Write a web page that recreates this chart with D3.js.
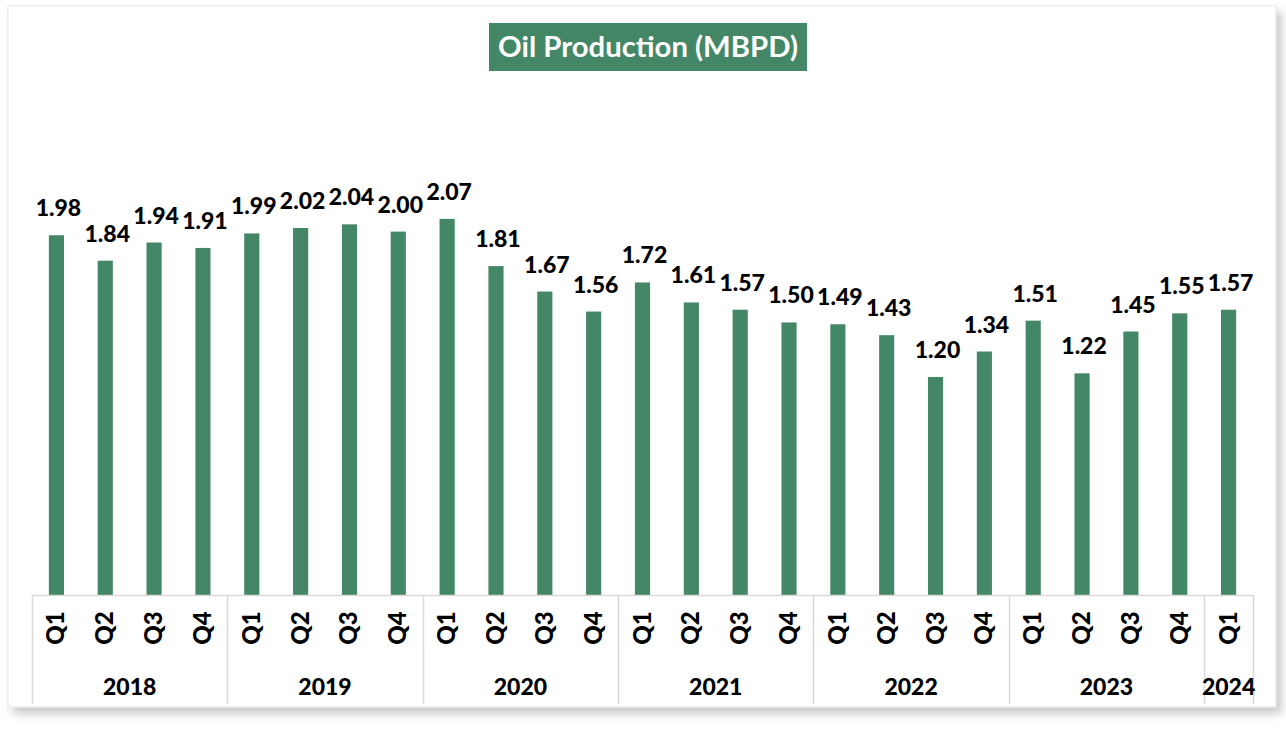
<!DOCTYPE html>
<html><head><meta charset="utf-8">
<script src="https://cdn.jsdelivr.net/npm/d3@7"></script>
<style>
html,body{margin:0;padding:0;background:#fff;}
svg{display:block;font-family:Lato,"Open Sans",sans-serif;}
</style></head>
<body>
<svg id="chart" width="1286" height="731"></svg>
<script>
const years = ["2018","2019","2020","2021","2022","2023","2024"];
const quarters = ["Q1","Q2","Q3","Q4"];
const values2018 = [1.98,1.84,1.94,1.91];
const values2019 = [1.99,2.02,2.04,2.00];
const values2020 = [2.07,1.81,1.67,1.56];
const values2021 = [1.72,1.61,1.57,1.50];
const values2022 = [1.49,1.43,1.20,1.34];
const values2023 = [1.51,1.22,1.45,1.55];
const values2024 = [1.57];
const title = "Oil Production (MBPD)";

const seriesByYear = [values2018,values2019,values2020,values2021,values2022,values2023,values2024];
const data = [];
seriesByYear.forEach((vals,yi)=>vals.forEach((v,qi)=>data.push({year:years[yi],q:quarters[qi],value:v,key:years[yi]+"-"+quarters[qi]})));

const svg = d3.select("#chart");
const green = "#438766";

// frame with shadow
const defs = svg.append("defs");
const f = defs.append("filter").attr("id","sh").attr("x","-5%").attr("y","-5%").attr("width","115%").attr("height","115%");
f.append("feDropShadow").attr("dx",5).attr("dy",6).attr("stdDeviation",5).attr("flood-color","#000").attr("flood-opacity",0.22);
svg.append("rect").attr("x",8).attr("y",6).attr("width",1268).attr("height",701)
  .attr("fill","#fff").attr("stroke","#e3e3e3").attr("stroke-width",1).attr("filter","url(#sh)");

const x = d3.scaleBand().domain(data.map(d=>d.key)).range([32,1253]).paddingInner(0.69).paddingOuter(0.345);
const y = d3.scaleLinear().domain([0,2.5]).range([595,140.75]);

// bars
svg.append("g").selectAll("rect").data(data).join("rect")
  .attr("x",d=>x(d.key)).attr("width",x.bandwidth())
  .attr("y",d=>y(d.value)).attr("height",d=>y(0)-y(d.value))
  .attr("fill",green);

// data labels
svg.append("g").selectAll("text").data(data).join("text")
  .attr("x",d=>x(d.key)+x.bandwidth()/2+2).attr("y",d=>y(d.value)-19)
  .attr("text-anchor","middle").attr("font-weight","900").attr("font-size",23)
  .attr("fill","#000").text(d=>d.value.toFixed(2));

// category axis
const ax = svg.append("g");
const axColor = "#d9d9d9";
ax.append("line").attr("x1",32).attr("x2",1253).attr("y1",595.5).attr("y2",595.5).attr("stroke",axColor).attr("stroke-width",1.5);
const groups = years.map((yr,i)=>{
  const keys = data.filter(d=>d.year===yr).map(d=>d.key);
  const step = x.step();
  const x0 = x(keys[0]) - x.paddingInner()*step/2;
  const x1 = x(keys[keys.length-1]) + x.bandwidth() + x.paddingInner()*step/2;
  return {year:yr,x0,x1};
});
const bounds = [groups[0].x0].concat(groups.map(g=>g.x1));
ax.selectAll("line.b").data(bounds).join("line").attr("class","b")
  .attr("x1",d=>Math.round(d)+0.5).attr("x2",d=>Math.round(d)+0.5).attr("y1",595).attr("y2",704)
  .attr("stroke",axColor).attr("stroke-width",1.5);
ax.selectAll("text.q").data(data).join("text").attr("class","q")
  .attr("transform",d=>`translate(${x(d.key)+x.bandwidth()/2+8},628) rotate(-90)`)
  .attr("text-anchor","middle").attr("font-weight","900").attr("font-size",24).attr("fill","#000")
  .text(d=>d.q);
ax.selectAll("text.y").data(groups).join("text").attr("class","y")
  .attr("x",d=>(d.x0+d.x1)/2).attr("y",695)
  .attr("text-anchor","middle").attr("font-weight","900").attr("font-size",23).attr("fill","#000")
  .text(d=>d.year);

// title
const tg = svg.append("g");
tg.append("rect").attr("x",489).attr("y",23).attr("width",318).attr("height",48).attr("fill",green);
const tt = tg.append("text").attr("x",648).attr("y",57).attr("text-anchor","middle")
  .attr("font-weight","bold").attr("font-size",26).attr("fill","#fff").text(title);
const w = tt.node().getComputedTextLength();
tt.attr("font-size",26*300/w);
</script>
</body></html>
